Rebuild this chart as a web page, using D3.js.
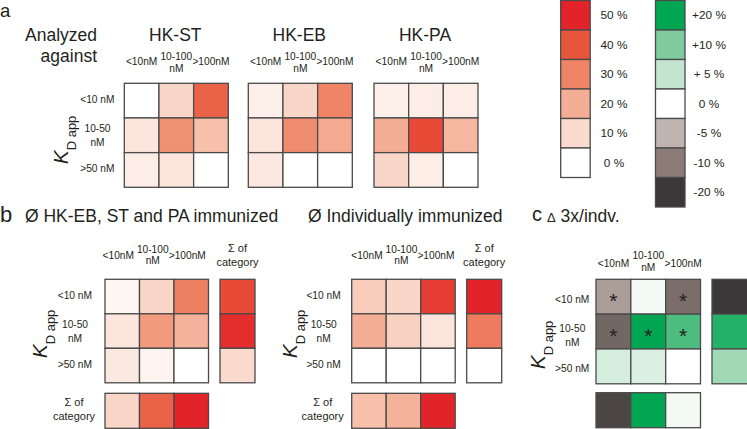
<!DOCTYPE html>
<html><head><meta charset="utf-8">
<script src="https://cdn.jsdelivr.net/npm/d3@7"></script>
<style>
body{margin:0;background:#fff}
svg{display:block;font-family:"Liberation Sans",Arial,Helvetica,sans-serif;color:#231f20}
</style>
</head><body>
<svg id="chart" width="747" height="429"></svg>
<script>
// ---------- data ----------
const colCats = ["<10nM", "10-100 nM", ">100nM"];
const rowCats = ["<10 nM", "10-50 nM", ">50 nM"];
const sumLabel = "Σ of category";

const redLegendValues = [50, 40, 30, 20, 10, 0];
const redLegendLabels = ["50 %", "40 %", "30 %", "20 %", "10 %", "0 %"];
const greenLegendValues = [20, 10, 5, 0, -5, -10, -20];
const greenLegendLabels = ["+20 %", "+10 %", "+ 5 %", "0 %", "-5 %", "-10 %", "-20 %"];

const panelATitles = ["HK-ST", "HK-EB", "HK-PA"];
// % of binders, rows = KD app category, cols = analyzed-against category
const hkST = [[0, 11, 37], [7, 27, 16], [5, 7, 0]];
const hkEB = [[4, 11, 30], [7, 28, 21], [6, 0, 0]];
const hkPA = [[4, 5, 5], [20, 42, 18], [11, 5, 0]];

const mixMatrix = [[2, 11, 31], [7, 25, 19], [6, 3, 0]];
const mixRowSum = [42, 48, 10];
const mixColSum = [11, 37, 50];

const indvMatrix = [[13, 11, 45], [20, 12, 7], [0, 0, 0]];
const indvRowSum = [50, 32, 0];
const indvColSum = [16, 19, 50];

const deltaMatrix = [[-7, 1, -12], [-13, 20, 14], [3.5, 3, 0]];
const deltaRowSum = [-20, 17, 7.5];
const deltaColSum = [-18, 20, 1];
const deltaStars = [[1, 0, 1], [1, 1, 1], [0, 0, 0]];

// ---------- scales ----------
const redScale = d3.scaleLinear()
  .domain([0, 10, 20, 30, 40, 50])
  .range(["#ffffff", "#f9dacd", "#f4ae95", "#ef8566", "#e8553b", "#e3232a"])
  .clamp(true);
const greenScale = d3.scaleLinear()
  .domain([-20, -10, -5, 0, 5, 10, 20])
  .range(["#3b3738", "#8b7c77", "#c0b4b0", "#ffffff", "#c3e5cf", "#7fcb9d", "#00a651"])
  .clamp(true);

const STROKE = "#4a4a4a";
const TXT = "#231f20";
const svg = d3.select("#chart");

function multiText(g, x, y, lines, lineH, size, anchor) {
  const t = g.append("text").attr("x", x).attr("y", y)
    .attr("font-size", size).attr("fill", TXT).attr("text-anchor", anchor || "middle");
  lines.forEach((l, i) => t.append("tspan").attr("x", x).attr("dy", i === 0 ? 0 : lineH).text(l));
  return t;
}

function drawMatrix(matrix, x0, y0, size, scale, stars) {
  const x = d3.scaleBand().domain(colCats).range([x0, x0 + size]);
  const y = d3.scaleBand().domain(rowCats).range([y0, y0 + size]);
  const cells = [];
  matrix.forEach((row, i) => row.forEach((v, j) => cells.push({r: rowCats[i], c: colCats[j], v, s: stars ? stars[i][j] : 0})));
  const g = svg.append("g");
  g.selectAll("rect").data(cells).join("rect")
    .attr("x", d => x(d.c)).attr("y", d => y(d.r))
    .attr("width", x.bandwidth()).attr("height", y.bandwidth())
    .attr("fill", d => scale(d.v)).attr("stroke", STROKE).attr("stroke-width", 1.3);
  if (stars) {
    g.selectAll("text.star").data(cells.filter(d => d.s)).join("text")
      .attr("class", "star")
      .attr("x", d => x(d.c) + x.bandwidth() / 2)
      .attr("y", d => y(d.r) + y.bandwidth() / 2 + 11.5)
      .attr("text-anchor", "middle").attr("font-size", 21).attr("fill", "#231f20")
      .text("*");
  }
  return {x, y};
}

function drawRowSum(values, xPos, w, y0, size, scale) {
  const y = d3.scaleBand().domain(rowCats).range([y0, y0 + size]);
  svg.append("g").selectAll("rect").data(values.map((v, i) => ({r: rowCats[i], v}))).join("rect")
    .attr("x", xPos).attr("y", d => y(d.r)).attr("width", w).attr("height", y.bandwidth())
    .attr("fill", d => scale(d.v)).attr("stroke", STROKE).attr("stroke-width", 1.3);
}
function drawColSum(values, x0, size, yPos, h, scale) {
  const x = d3.scaleBand().domain(colCats).range([x0, x0 + size]);
  svg.append("g").selectAll("rect").data(values.map((v, i) => ({c: colCats[i], v}))).join("rect")
    .attr("x", d => x(d.c)).attr("y", yPos).attr("width", x.bandwidth()).attr("height", h)
    .attr("fill", d => scale(d.v)).attr("stroke", STROKE).attr("stroke-width", 1.3);
}

function colLabels(sc, yTop, dx, offs) {
  const g = svg.append("g");
  colCats.forEach(c => {
    const cx = sc.x(c) + sc.x.bandwidth() / 2 + dx;
    if (c === "10-100 nM") {
      multiText(g, cx, yTop + offs[1], ["10-100", "nM"], 11.5, 10.2);
    } else {
      multiText(g, cx, yTop + offs[0], [c], 0, 10.2);
    }
  });
}
function rowLabels(sc, xRight, dy) {
  const g = svg.append("g");
  rowCats.forEach(r => {
    const cy = sc.y(r) + sc.y.bandwidth() / 2 + dy;
    if (r === "10-50 nM") {
      multiText(g, xRight - 17, cy - 3, ["10-50", "nM"], 13.5, 10.2, "middle");
    } else {
      multiText(g, xRight, cy + 2.5, [r], 0, 10.2, "end");
    }
  });
}
function kdLabel(x, y) {
  const t = svg.append("text").attr("transform", `translate(${x},${y}) rotate(-90)`)
    .attr("text-anchor", "middle").attr("fill", TXT);
  t.append("tspan").attr("font-size", 21).attr("font-style", "italic").text("K");
  t.append("tspan").attr("font-size", 13).attr("dy", 8).text("D app");
}
function sumTextLabel(g, x, y) {
  const parts = sumLabel.split(" of ");
  multiText(g, x, y, [parts[0] + " of", parts[1]], 14, 11);
}

// ---------- panel a ----------
svg.append("text").attr("x", 0).attr("y", 17).attr("font-size", 18.5).attr("fill", TXT).text("a");
multiText(svg, 97, 40.5, ["Analyzed", "against"], 21.5, 17.5, "end");

const aX = [124.3, 248.3, 374];
const aY = 83.3, aSize = 104;
[hkST, hkEB, hkPA].forEach((m, k) => {
  const sc = drawMatrix(m, aX[k], aY, aSize, redScale);
  svg.append("text").attr("x", aX[k] + aSize / 2 - 1).attr("y", 40.7)
    .attr("text-anchor", "middle").attr("font-size", 17.5).attr("fill", TXT).text(panelATitles[k]);
  colLabels(sc, aY, 0, [-18.3, -23.3]);
  if (k === 0) rowLabels(sc, 114.5, 0);
});
kdLabel(68, 140);

// ---------- legends ----------
const legX = 560.7, legW = 29.5, legH = 29.5;
const ly = d3.scaleBand().domain(d3.range(7)).range([0.5, 0.5 + 7 * legH]);
svg.append("g").selectAll("rect").data(redLegendValues).join("rect")
  .attr("x", legX).attr("y", (d, i) => ly(i)).attr("width", legW).attr("height", legH)
  .attr("fill", d => redScale(d)).attr("stroke", STROKE).attr("stroke-width", 1.3);
svg.append("g").selectAll("text").data(redLegendLabels).join("text")
  .attr("x", 614).attr("y", (d, i) => ly(i) + legH / 2 + 4)
  .attr("text-anchor", "middle").attr("font-size", 11.8).attr("fill", TXT).text(d => d);

const gLegX = 655.5;
svg.append("g").selectAll("rect").data(greenLegendValues).join("rect")
  .attr("x", gLegX).attr("y", (d, i) => ly(i)).attr("width", legW).attr("height", legH)
  .attr("fill", d => greenScale(d)).attr("stroke", STROKE).attr("stroke-width", 1.3);
svg.append("g").selectAll("text").data(greenLegendLabels).join("text")
  .attr("x", 709).attr("y", (d, i) => ly(i) + legH / 2 + 4)
  .attr("text-anchor", "middle").attr("font-size", 11.8).attr("fill", TXT).text(d => d);

// ---------- panel b ----------
svg.append("text").attr("x", 0).attr("y", 221.7).attr("font-size", 22).attr("fill", TXT).text("b");
svg.append("text").attr("x", 25).attr("y", 221.7).attr("font-size", 17.5).attr("fill", TXT)
  .text("Ø HK-EB, ST and PA immunized");
svg.append("text").attr("x", 308).attr("y", 221.7).attr("font-size", 17.5).attr("fill", TXT)
  .text("Ø Individually immunized");

const bY = 279.3, bSize = 103.5, sumW = 35, sumRowY = 393.3;
[[mixMatrix, mixRowSum, mixColSum, 105, 220, 92], [indvMatrix, indvRowSum, indvColSum, 351.7, 466.7, 340.7]]
  .forEach(([m, rs, cs, x0, sx, rlx], k) => {
    const sc = drawMatrix(m, x0, bY, bSize, redScale);
    drawRowSum(rs, sx, sumW, bY, bSize, redScale);
    drawColSum(cs, x0, bSize, sumRowY, sumW, redScale);
    colLabels(sc, bY, k === 0 ? -4 : -2, [-20, -26.6]);
    rowLabels(sc, rlx, 0);
    const g = svg.append("g");
    sumTextLabel(g, sx + sumW / 2, 252.3);
    sumTextLabel(g, rlx - 18, 405.5);
    kdLabel(k === 0 ? 47 : 297, 334);
  });

// ---------- panel c ----------
svg.append("text").attr("x", 532).attr("y", 220.5).attr("font-size", 20).attr("fill", TXT).text("c");
const ct = svg.append("text").attr("x", 547).attr("y", 221.7).attr("fill", TXT);
ct.append("tspan").attr("font-size", 13).text("Δ");
ct.append("tspan").attr("font-size", 17.5).text(" 3x/indv.");

const cX = 596, cY = 279.3, cSize = 104.5;
const scC = drawMatrix(deltaMatrix, cX, cY, cSize, greenScale, deltaStars);
drawRowSum(deltaRowSum, 712, 37, cY, cSize, greenScale);
drawColSum(deltaColSum, cX, cSize, 392.7, 35, greenScale);
colLabels(scC, cY, 0, [-12.6, -20]);
rowLabels(scC, 589.3, 3.5);
kdLabel(545, 345);
</script>
</body></html>
